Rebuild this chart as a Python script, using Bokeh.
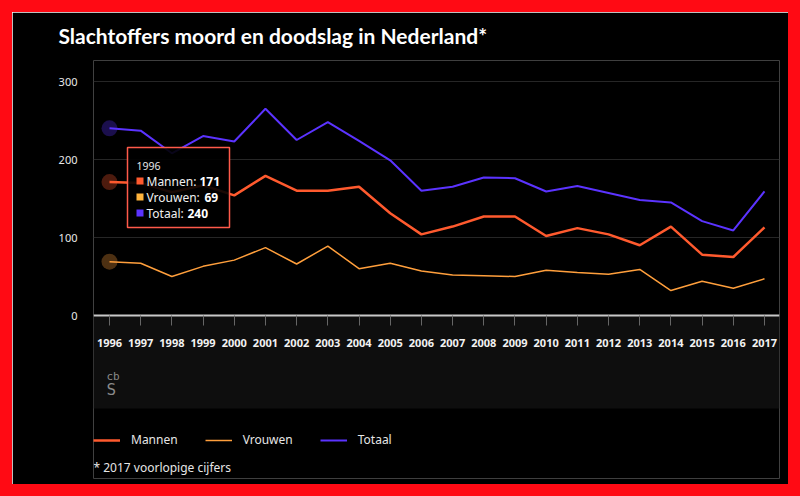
from bokeh.plotting import figure
from bokeh.models import (FixedTicker, Label, Legend, LegendItem, Range1d)
from bokeh.core.properties import value
from bokeh.embed import file_html
from bokeh.resources import INLINE

# ---- data ----
years = list(range(1996, 2018))
mannen = [171, 170, 158, 167, 154, 179, 160, 160, 165, 131, 104, 114, 127, 127, 102, 112, 104, 90, 114, 78, 75, 113]
vrouwen = [69, 67, 50, 63, 71, 87, 66, 89, 60, 67, 57, 52, 51, 50, 58, 55, 53, 59, 32, 44, 35, 47]
totaal = [240, 237, 208, 230, 223, 265, 225, 248, 224, 199, 160, 165, 177, 176, 159, 166, 157, 148, 145, 121, 109, 159]
y_ticks = [0, 100, 200, 300]
series_names = ["Mannen", "Vrouwen", "Totaal"]
title_text = "Slachtoffers moord en doodslag in Nederland*"
footnote_text = "* 2017 voorlopige cijfers"
hover_index = 0

# ---- styling / geometry ----
C_M, C_V, C_T = "#ff5a2e", "#ff9f3c", "#5b33ff"
FONT = "Noto Sans"
RING = 12                      # red frame around the chart (px)
W, H = 800 - 2 * RING, 496 - 2 * RING
ML, MR, MT, MB = 81, 9, 48, 6
FW, FH = W - ML - MR, H - MT - MB
PX_PER_UNIT = 0.78             # vertical pixels per victim
ZERO_FROM_BOTTOM = 163         # px between frame bottom and the zero line
PANEL_DEPTH = 93               # px of the dark axis panel under the zero line
Y0 = -ZERO_FROM_BOTTOM / PX_PER_UNIT
Y1 = Y0 + FH / PX_PER_UNIT
X0 = 1995.487
X1 = 2017.481
SX = FW / (X1 - X0)
SY = FH / (Y1 - Y0)


def nudge(x, y, dx, dy):
    """move a data point by dx, dy screen pixels (dy positive = down)"""
    return x + dx / SX, y - dy / SY


p = figure(width=W, height=H, x_range=Range1d(X0, X1), y_range=Range1d(Y0, Y1),
           output_backend="svg", toolbar_location=None,
           min_border_left=ML, min_border_right=MR, min_border_top=MT, min_border_bottom=MB)
p.styles = {"margin": f"{RING}px", "outline": f"{RING}px solid #ff0a14"}
p.background_fill_color = "#000000"
p.border_fill_color = "#000000"
p.outline_line_color = None

# title
p.title.text = title_text
p.title.align = "left"
p.title.vertical_align = "top"
p.title.offset = -35
p.title.standoff = 21
p.title.text_color = "#ffffff"
p.title.text_font = "Lato"
p.title.text_font_style = "bold"
p.title.text_font_size = "21px"

# dark panel under the x axis (spans the plotting width)
p.quad(left=[X0], right=[X1], top=[0], bottom=[-PANEL_DEPTH / PX_PER_UNIT],
       fill_color="#0e0e0e", line_color=None, level="underlay")

# axes
p.yaxis.ticker = FixedTicker(ticks=y_ticks)
p.yaxis.axis_line_color = None
p.yaxis.major_tick_line_color = None
p.yaxis.minor_tick_line_color = None
p.yaxis.major_tick_out = 0
p.yaxis.major_tick_in = 0
p.yaxis.major_label_standoff = 16
p.yaxis.major_label_text_color = "#e8e8e8"
p.yaxis.major_label_text_font = FONT
p.yaxis.major_label_text_font_size = "11px"

p.xaxis.fixed_location = 0
p.xaxis.ticker = FixedTicker(ticks=years)
p.xaxis.axis_line_color = "#c8c8c8"
p.xaxis.axis_line_width = 2
p.xaxis.major_tick_line_color = "#666666"
p.xaxis.major_tick_out = 10
p.xaxis.major_tick_in = 0
p.xaxis.minor_tick_line_color = None
p.xaxis.major_label_standoff = 13
p.xaxis.major_label_text_color = "#f2f2f2"
p.xaxis.major_label_text_font = FONT
p.xaxis.major_label_text_font_style = "bold"
p.xaxis.major_label_text_font_size = "11px"

p.xgrid.visible = False
p.ygrid.ticker = FixedTicker(ticks=y_ticks[1:])
p.ygrid.grid_line_color = "#262626"

# hover halos at the highlighted year
hx = years[hover_index]
p.scatter([hx, hx, hx], [totaal[hover_index], mannen[hover_index], vrouwen[hover_index]],
          size=16, color=[C_T, C_M, C_V], alpha=0.3, line_color=None)

r_t = p.line(years, totaal, line_color=C_T, line_width=2)
r_m = p.line(years, mannen, line_color=C_M, line_width=2.5)
r_v = p.line(years, vrouwen, line_color=C_V, line_width=1.5)

# tooltip for the highlighted year, anchored at the Mannen point
ax, ay = years[hover_index], mannen[hover_index]
bx, by = nudge(ax, ay, 69, 5.5)
p.rect([bx], [by], width=102, height=80, width_units="screen", height_units="screen",
       fill_color="#000000", fill_alpha=0.9, line_color="#ff5a4a", line_width=1.5)

rows_dy = [-1, 15, 31]
sq_x, sq_y = [], []
for dy in rows_dy:
    qx, qy = nudge(ax, ay, 30.5, dy)
    sq_x.append(qx)
    sq_y.append(qy)
p.scatter(sq_x, sq_y, marker="square", size=7, color=[C_M, "#ffb43c", C_T], line_color=None)

p.text([ax], [ay], text=[str(years[hover_index])], x_offset=27, y_offset=-16.6,
       text_baseline="middle", text_color="#e6e6e6", text_font=value(FONT), text_font_size="10.5px")
reg_labels = [f"{n}: " for n in series_names]
p.text([ax] * 3, [ay] * 3, text=reg_labels, x_offset=37, y_offset=rows_dy,
       text_baseline="middle", text_color="#f0f0f0", text_font=value(FONT), text_font_size="12px")
vals = [str(mannen[hover_index]), str(vrouwen[hover_index]), str(totaal[hover_index])]
p.text([ax] * 3, [ay] * 3, text=vals, x_offset=[90, 95, 78], y_offset=rows_dy,
       text_baseline="middle", text_color="#ffffff", text_font=value(FONT), text_font_size="12px",
       text_font_style="bold")

# cbs logo (approximation)
lx1, ly1 = nudge(X0, 0, 13, 61)
lx2, ly2 = nudge(X0, 0, 13, 74)
p.text([lx1], [ly1], text=["cb"], text_baseline="middle", text_color="#8a8a8a",
       text_font=value("DejaVu Sans Mono"), text_font_size="11px")
p.text([lx2], [ly2], text=["S"], text_baseline="middle", text_color="#8a8a8a",
       text_font=value("DejaVu Sans Mono"), text_font_size="16px")

# legend under the panel (inside the frame)
legend = Legend(items=[LegendItem(label=series_names[0], renderers=[r_m]),
                       LegendItem(label=series_names[1], renderers=[r_v]),
                       LegendItem(label=series_names[2], renderers=[r_t])],
                location=(0, 30), orientation="horizontal",
                glyph_width=27, glyph_height=14, label_height=14, label_standoff=11, spacing=27,
                padding=0, margin=0, background_fill_alpha=0, border_line_color=None,
                label_text_color="#e6e6e6", label_text_font=FONT, label_text_font_size="12px")
p.add_layout(legend, "center")

# footnote
p.add_layout(Label(x=0, y=11, x_units="screen", y_units="screen", text=footnote_text,
                   text_color="#e6e6e6", text_font=FONT, text_font_size="12px",
                   text_baseline="middle"))

open("out.html", "w").write(file_html(p, INLINE))
